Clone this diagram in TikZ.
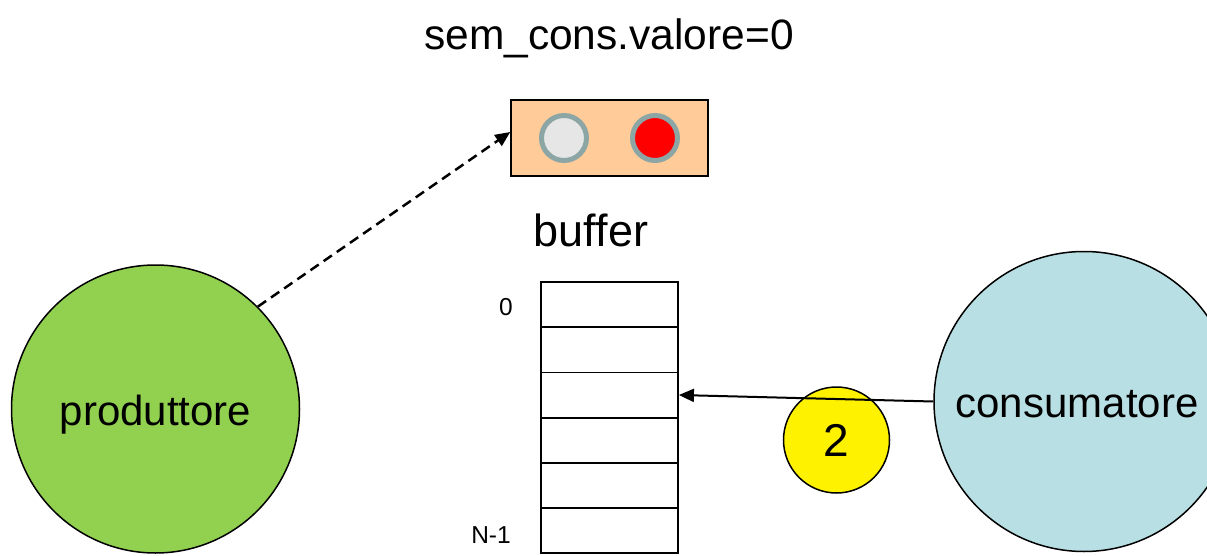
\documentclass[tikz,border=0pt]{standalone}
\usepackage{fontspec}
\setmainfont{Liberation Sans}
\usetikzlibrary{arrows.meta}
\definecolor{peach}{HTML}{FFCC99}
\definecolor{lightrim}{HTML}{8CA5A5}
\definecolor{offgrey}{HTML}{E6E6E6}
\definecolor{prodgreen}{HTML}{92D050}
\definecolor{consblue}{HTML}{B8DFE3}
\tikzset{
  txt/.style={font=\fontsize{42}{50}\selectfont, inner sep=0pt},
  small/.style={font=\fontsize{24.5}{29}\selectfont, inner sep=0pt},
  proc/.style={circle, draw=black, line width=1.5pt, inner sep=0pt},
  cell/.style={rectangle, draw=black, line width=1.8pt, minimum width=137pt, minimum height=45.2pt, inner sep=0pt},
  light/.style={circle, draw=lightrim, line width=5pt, minimum size=45pt, inner sep=0pt},
  tip/.style={-{Triangle[length=15pt,width=13pt]}, line width=2pt},
}
\begin{document}
\begin{tikzpicture}[x=1pt,y=-1pt]
\useasboundingbox (0,0) rectangle (1207,556);
% title
\node[txt, anchor=base, font=\fontsize{42.5}{50}\selectfont] (title) at (609,50) {sem\_cons.valore=0};
% semaphore
\node[rectangle, draw=black, line width=1.5pt, fill=peach, minimum width=197pt, minimum height=76pt, inner sep=0pt] (sem) at (609.5,138) {};
\node[light, fill=offgrey] (green) at (564,138) {};
\node[light, fill=red] (redl) at (655,138) {};
% buffer
\node[txt, anchor=base, font=\fontsize{45}{52}\selectfont] (buflabel) at (591,247) {buffer};
\node[cell] (c1) at (609.5,304.6) {};
\node[cell] (c2) at (609.5,349.8) {};
\node[cell] (c3) at (609.5,395.0) {};
\node[cell] (c4) at (609.5,440.2) {};
\node[cell] (c5) at (609.5,485.4) {};
\node[cell] (c6) at (609.5,530.6) {};
\node[small, anchor=base] (zero) at (506,315) {0};
\node[small, anchor=base] (nm1) at (491,543) {N-1};
% processes
\node[proc, fill=prodgreen, minimum size=288pt] (prod) at (155.5,409) {};
\node[txt, anchor=base] (prodtxt) at ([yshift=-16pt]prod.center) {produttore};
\node[proc, fill=consblue, minimum size=300pt] (cons) at (1084,401.5) {};
\node[txt, anchor=base] (constxt) at ([xshift=-7pt,yshift=-15.5pt]cons.center) {consumatore};
\node[proc, fill=yellow, minimum size=106pt, font=\fontsize{46}{54}\selectfont] (two) at (836.5,440) {2};
% connectors
\draw[tip, dashed, dash pattern=on 10pt off 6pt, line width=2.5pt] (prod.45) -- ([yshift=6pt]sem.west);
\draw[tip] (cons.west) -- (c3.east);
\end{tikzpicture}
\end{document}
